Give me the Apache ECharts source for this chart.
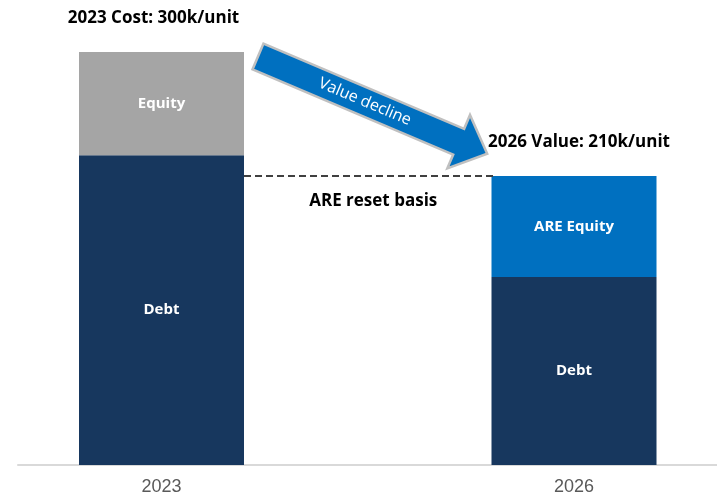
<!DOCTYPE html>
<html>
<head>
<meta charset="utf-8">
<script src="https://cdn.jsdelivr.net/npm/echarts@6/dist/echarts.min.js"></script>
<style>
  html, body { margin: 0; padding: 0; background: #ffffff; }
  #chart { width: 717px; height: 495px; }
</style>
</head>
<body>
<div id="chart"></div>
<script>
// Capital stack per unit (k per unit)
const years = ['2023', '2026'];
const debt = [225, 136.5];
const equity = [75, null];
const areEquity = [null, 73.5];
const totalLabels = ['Cost', 'Value'];
const resetBasis = 210;

const totals = years.map((_, i) => (debt[i] || 0) + (equity[i] || 0) + (areEquity[i] || 0));

const FONT = '"Open Sans", Roboto, "Liberation Sans", Arial, sans-serif';
const inside = {
  show: true, position: 'inside', color: '#ffffff',
  fontFamily: FONT, fontWeight: 'bold', fontSize: 15,
  formatter: p => p.seriesName
};

const chart = echarts.init(document.getElementById('chart'));

chart.setOption({
  animation: false,
  backgroundColor: '#ffffff',
  grid: [
    { left: -44.75, width: 825, top: 52, bottom: 30, outerBoundsMode: 'none', containLabel: false },
    { left: 18, right: 0, top: 52, bottom: 30, outerBoundsMode: 'none', containLabel: false }
  ],
  xAxis: [
    {
      type: 'category', data: years, gridIndex: 0,
      axisLine: { show: false }, axisTick: { show: false },
      axisLabel: { color: '#595959', fontSize: 18, fontFamily: '"Liberation Sans Narrow", "Arial Narrow", sans-serif', margin: 13 }
    },
    {
      type: 'value', gridIndex: 1, min: 0, max: 1,
      axisLine: { show: true, onZero: false, lineStyle: { color: '#d9d9d9', width: 2 } },
      axisTick: { show: false }, axisLabel: { show: false }, splitLine: { show: false }
    }
  ],
  yAxis: [
    { type: 'value', gridIndex: 0, min: 0, max: 300, show: false },
    { type: 'value', gridIndex: 1, min: 0, max: 1, show: false }
  ],
  series: [
    {
      name: 'Debt', type: 'bar', stack: 'total', barWidth: 165,
      data: debt, itemStyle: { color: '#17375e' }, label: inside
    },
    {
      name: 'Equity', type: 'bar', stack: 'total',
      data: equity, itemStyle: { color: '#a5a5a5' }, label: inside
    },
    {
      name: 'ARE Equity', type: 'bar', stack: 'total',
      data: areEquity, itemStyle: { color: '#0070c0' }, label: inside
    },
    {
      // headline above each stack, built from the stack totals
      name: 'Total', type: 'bar', stack: 'total',
      data: [
        { value: 0, label: { offset: [-8, 0] } },
        { value: 0, label: { offset: [5, 0] } }
      ],
      itemStyle: { color: 'rgba(0,0,0,0)' },
      label: {
        show: true, position: 'top', distance: 25,
        color: '#000000', fontFamily: FONT, fontWeight: 'bold', fontSize: 17,
        formatter: p => `${years[p.dataIndex]} ${totalLabels[p.dataIndex]}: ${totals[p.dataIndex]}k/unit`
      }
    }
  ]
});

// dashed reset-basis line from the 2023 bar's right edge to the 2026 bar
const halfBar = 165 / 2;
const yBasis = chart.convertToPixel({ yAxisIndex: 0 }, resetBasis);
const x0 = chart.convertToPixel({ xAxisIndex: 0 }, years[0]) + halfBar;
const x1 = chart.convertToPixel({ xAxisIndex: 0 }, years[1]) - halfBar + 3;

// block arrow for the value decline
const ang = 23 * Math.PI / 180;
const arrowPts = [[0, -14], [218, -14], [218, -29], [249, 0], [218, 29], [218, 14], [0, 14]];

chart.setOption({
  graphic: [
    {
      type: 'line', z: 10,
      shape: { x1: x0, y1: yBasis, x2: x1, y2: yBasis },
      style: { stroke: '#404040', lineWidth: 2, lineDash: [7, 4] }
    },
    {
      type: 'text', z: 10, x: (x0 + x1) / 2 + 4, y: yBasis + 25,
      style: {
        text: 'ARE reset basis', fill: '#000000', font: 'bold 17px ' + FONT,
        textAlign: 'center', textVerticalAlign: 'middle'
      }
    },
    {
      type: 'group', x: 258, y: 56.5, rotation: -ang, z: 20,
      children: [
        {
          type: 'polygon',
          shape: { points: arrowPts },
          style: { fill: '#0070c0', stroke: '#c0c0c0', lineWidth: 2.5, lineJoin: 'miter' }
        },
        {
          type: 'text', x: 116, y: 0,
          style: {
            text: 'Value decline', fill: '#ffffff', font: '16px ' + FONT,
            textAlign: 'center', textVerticalAlign: 'middle'
          }
        }
      ]
    }
  ]
});
</script>
</body>
</html>
